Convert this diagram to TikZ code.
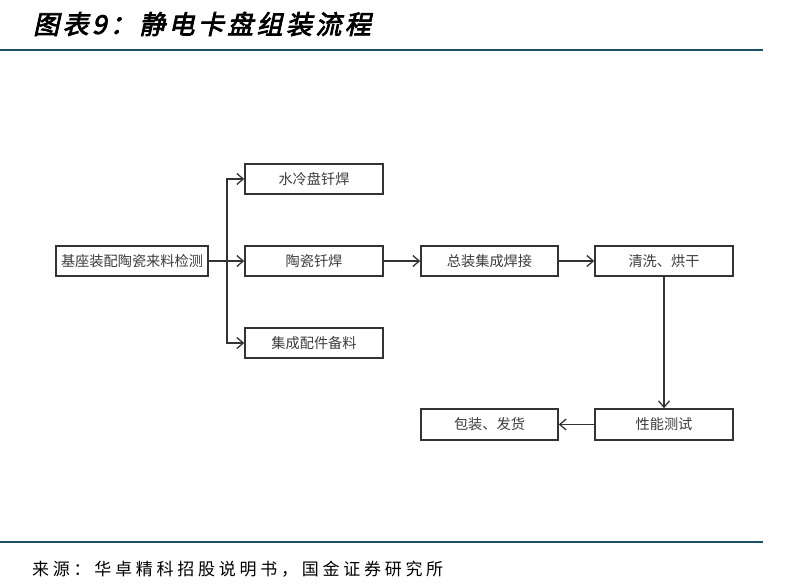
\documentclass[tikz,border=0pt]{standalone}
\usepackage{fontspec}
\usetikzlibrary{arrows.meta}
\newfontfamily\cjk{Noto Sans CJK SC}
\newfontfamily\titlefont[FakeSlant=0.22,FakeBold=3,LetterSpace=13]{Noto Sans CJK SC}
\newfontfamily\footfont[LetterSpace=22]{Noto Sans CJK SC}
\definecolor{rule}{HTML}{1B4F66}
\definecolor{boxline}{HTML}{333333}
\definecolor{boxtext}{HTML}{3C3C3C}
\tikzset{
  stepbox/.style={draw=boxline, line width=1.4pt, minimum width=138pt, minimum height=30pt,
    inner sep=0pt, font=\cjk\fontsize{14.2}{15}\selectfont, text=boxtext},
  flow/.style={draw=boxline, line width=1.3pt, -{Straight Barb[length=6.5pt,width=11pt,line width=1.3pt]}},
  rulestyle/.style={draw=rule, line width=1.3pt}
}
\begin{document}
\begin{tikzpicture}[x=1pt,y=-1pt]
\useasboundingbox (0,0) rectangle (795,585);
\node[anchor=west, inner sep=0pt, font=\titlefont\fontsize{26}{28}\selectfont] (title) at (33,24) {图表9：静电卡盘组装流程};
\draw[rulestyle] (0,50) -- (763,50);
\draw[rulestyle] (0,542) -- (763,542);
\node[anchor=west, inner sep=0pt, font=\footfont\fontsize{17}{19}\selectfont, text=black] (src) at (32,569) {来源：华卓精科招股说明书，国金证券研究所};

\node[stepbox, minimum width=152pt] (n0) at (132,261) {基座装配陶瓷来料检测};
\node[stepbox] (n1) at (314,179) {水冷盘钎焊};
\node[stepbox] (n2) at (314,261) {陶瓷钎焊};
\node[stepbox] (n3) at (314,343) {集成配件备料};
\node[stepbox, minimum width=137pt] (n4) at (489.5,261) {总装集成焊接};
\node[stepbox] (n5) at (664,261) {清洗、烘干};
\node[stepbox, minimum height=31pt] (n6) at (664,424.5) {性能测试};
\node[stepbox, minimum width=137pt, minimum height=31pt] (n7) at (489.5,424.5) {包装、发货};

\coordinate (br) at (227,261);
\draw[flow] (n0.east) -- (n2.west);
\draw[flow] (br) |- (n1.west);
\draw[flow] (br) |- (n3.west);
\draw[flow] (n2.east) -- (n4.west);
\draw[flow] (n4.east) -- (n5.west);
\draw[flow] (n5.south) -- (n6.north);
\draw[flow] (n6.west) -- (n7.east);
\end{tikzpicture}
\end{document}
